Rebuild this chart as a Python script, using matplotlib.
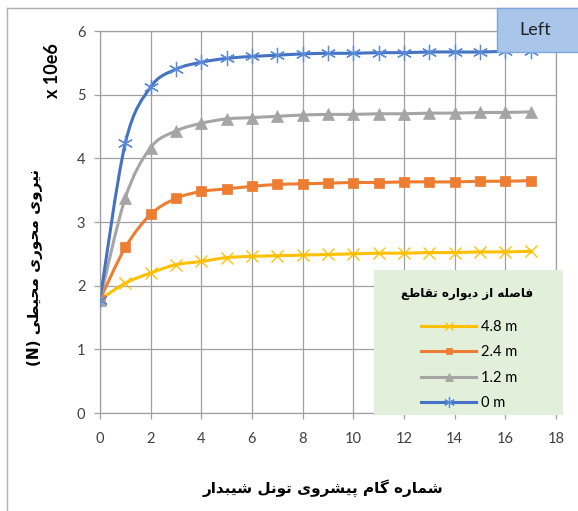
import matplotlib
matplotlib.use("Agg")
import matplotlib.pyplot as plt
from matplotlib.path import Path
from matplotlib.patches import PathPatch, Rectangle
from matplotlib.lines import Line2D

# data (values x 10e6 N)
steps = list(range(18))
force_48 = [1.78, 2.04, 2.20, 2.33, 2.38, 2.44, 2.46, 2.47, 2.48, 2.49, 2.50, 2.51, 2.51, 2.52, 2.52, 2.53, 2.53, 2.54]
force_24 = [1.78, 2.60, 3.12, 3.37, 3.48, 3.52, 3.56, 3.59, 3.60, 3.61, 3.62, 3.62, 3.63, 3.63, 3.63, 3.64, 3.64, 3.65]
force_12 = [1.78, 3.38, 4.17, 4.43, 4.55, 4.62, 4.64, 4.66, 4.68, 4.69, 4.69, 4.70, 4.70, 4.71, 4.71, 4.72, 4.72, 4.73]
force_0 = [1.78, 4.24, 5.12, 5.40, 5.51, 5.57, 5.60, 5.62, 5.64, 5.65, 5.65, 5.66, 5.66, 5.67, 5.67, 5.67, 5.68, 5.68]
series_labels = ["4.8 m", "2.4 m", "1.2 m", "0 m"]

y_title = "نیروی محوری محیطی"
x_title = "شماره گام پیشروی تونل شیبدار"
legend_title = "فاصله از دیواره تقاطع"

# minimal arabic shaping (matplotlib has no text shaping of its own)
FORMS = {
    "ا": ("\uFE8D", "\uFE8E"), "د": ("\uFEA9", "\uFEAA"), "ر": ("\uFEAD", "\uFEAE"),
    "ز": ("\uFEAF", "\uFEB0"), "و": ("\uFEED", "\uFEEE"),
    "ب": ("\uFE8F", "\uFE90", "\uFE91", "\uFE92"), "ت": ("\uFE95", "\uFE96", "\uFE97", "\uFE98"),
    "ح": ("\uFEA1", "\uFEA2", "\uFEA3", "\uFEA4"), "ش": ("\uFEB5", "\uFEB6", "\uFEB7", "\uFEB8"),
    "ص": ("\uFEB9", "\uFEBA", "\uFEBB", "\uFEBC"), "ط": ("\uFEC1", "\uFEC2", "\uFEC3", "\uFEC4"),
    "ع": ("\uFEC9", "\uFECA", "\uFECB", "\uFECC"), "ف": ("\uFED1", "\uFED2", "\uFED3", "\uFED4"),
    "ق": ("\uFED5", "\uFED6", "\uFED7", "\uFED8"), "ل": ("\uFEDD", "\uFEDE", "\uFEDF", "\uFEE0"),
    "م": ("\uFEE1", "\uFEE2", "\uFEE3", "\uFEE4"), "ن": ("\uFEE5", "\uFEE6", "\uFEE7", "\uFEE8"),
    "ه": ("\uFEE9", "\uFEEA", "\uFEEB", "\uFEEC"), "ی": ("\uFBFC", "\uFBFD", "\uFBFE", "\uFBFF"),
    "پ": ("\uFB56", "\uFB57", "\uFB58", "\uFB59"), "گ": ("\uFB92", "\uFB93", "\uFB94", "\uFB95"),
}


def rtl(text):
    out = []
    for i, ch in enumerate(text):
        forms = FORMS.get(ch)
        if forms is None:
            out.append(ch)
            continue
        prev = text[i - 1] if i > 0 else ""
        nxt = text[i + 1] if i + 1 < len(text) else ""
        join_prev = len(FORMS.get(prev, ())) == 4
        join_next = len(forms) == 4 and nxt in FORMS
        if join_prev and join_next:
            out.append(forms[3])
        elif join_prev:
            out.append(forms[1])
        elif join_next:
            out.append(forms[2])
        else:
            out.append(forms[0])
    return "".join(reversed(out))


def smooth_path(x, y):
    # excel style smoothed line: catmull-rom converted to bezier segments
    verts = [(x[0], y[0])]
    codes = [Path.MOVETO]
    n = len(x)
    for i in range(n - 1):
        x0, y0 = (x[i - 1], y[i - 1]) if i > 0 else (x[i], y[i])
        x3, y3 = (x[i + 2], y[i + 2]) if i + 2 < n else (x[i + 1], y[i + 1])
        c1 = (x[i] + (x[i + 1] - x0) / 6, y[i] + (y[i + 1] - y0) / 6)
        c2 = (x[i + 1] - (x3 - x[i]) / 6, y[i + 1] - (y3 - y[i]) / 6)
        verts += [c1, c2, (x[i + 1], y[i + 1])]
        codes += [Path.CURVE4] * 3
    return Path(verts, codes)


plt.rcParams["font.family"] = ["Lato", "DejaVu Sans"]

W, H = 578, 511
fig = plt.figure(figsize=(W / 100, H / 100), dpi=100)
ax = fig.add_axes([100 / W, 1 - 413 / H, 456 / W, 382 / H])

styles = [
    dict(color="#ffc000", mc="#ffc000", marker="x", ms=9, mew=1.0),
    dict(color="#ed7d31", mc="#ed7d31", marker="s", ms=6.5, mew=0.5),
    dict(color="#a5a5a5", mc="#a5a5a5", marker="^", ms=8, mew=0.5),
    dict(color="#4472c4", mc="#5b8ad6", marker=(6, 2, 0), ms=11, mew=0.9),
]
all_series = [force_48, force_24, force_12, force_0]

handles = []
for vals, st, lab in zip(all_series, styles, series_labels):
    ax.add_patch(PathPatch(smooth_path(steps, vals), fill=False, edgecolor=st["color"],
                           lw=2.2, capstyle="round", zorder=2))
    ax.plot(steps, vals, linestyle="none", marker=st["marker"], ms=st["ms"],
            mfc=st["mc"], mec=st["mc"], mew=st["mew"], zorder=3)
    handles.append(Line2D([], [], color=st["color"], lw=2.2, marker=st["marker"],
                          ms=st["ms"] * 0.7, mfc=st["mc"], mec=st["mc"], mew=st["mew"]))

ax.set_xlim(0, 18)
ax.set_ylim(0, 6)
ax.set_xticks(range(0, 19, 2))
ax.set_yticks(range(0, 7))
ax.grid(True, color="#a0a0a0", lw=0.9)
ax.set_axisbelow(True)
for sp in ax.spines.values():
    sp.set_color("#a0a0a0")
    sp.set_linewidth(0.9)
ax.tick_params(colors="#a0a0a0", labelcolor="#404040", labelsize=10.5, length=4.5, width=0.9)
ax.tick_params(axis="x", pad=9)
ax.tick_params(axis="y", pad=6)

# legend with its own light green panel and title
fig.patches.append(Rectangle((374 / W, 1 - 415 / H), 189 / W, 145 / H, transform=fig.transFigure,
                             facecolor="#e2efda", edgecolor="none", zorder=1))
leg = fig.legend(handles, series_labels, loc="center",
                 bbox_to_anchor=(469 / W, 1 - 365 / H), frameon=False, fontsize=10.5,
                 handlelength=3.8, handletextpad=0.3, labelspacing=0.78)
leg.set_zorder(2)
fig.text(467 / W, 1 - 293 / H, rtl(legend_title), ha="center", va="center",
         family="DejaVu Sans", fontsize=8.6, fontweight="bold", zorder=2)

# axis titles
fig.text(35 / W, 1 - 267 / H, "(N) " + rtl(y_title), rotation=90, ha="center", va="center",
         family="DejaVu Sans", fontsize=11, fontweight="bold")
fig.text(52 / W, 1 - 71 / H, "x 10e6", rotation=90, ha="center", va="center",
         fontsize=13, fontweight="bold")
fig.text(323 / W, 1 - 488 / H, rtl(x_title), ha="center", va="center",
         family="DejaVu Sans", fontsize=11, fontweight="bold")

# outer chart border
fig.lines.append(Line2D([7 / W, 7 / W], [0, 1 - 8 / H], transform=fig.transFigure, color="#b0b0b0", lw=1))
fig.lines.append(Line2D([7 / W, 1], [1 - 8 / H, 1 - 8 / H], transform=fig.transFigure, color="#b0b0b0", lw=1))

# "Left" tag box
fig.patches.append(Rectangle((497 / W, 1 - 52 / H), 90 / W, 44 / H, transform=fig.transFigure,
                             facecolor="#a9c5ea", edgecolor="#7ea6dc", lw=1, zorder=10))
fig.text(535 / W, 1 - 30 / H, "Left", ha="center", va="center", fontsize=13, color="#222222", zorder=11)

fig.savefig("out.png", dpi=100)
